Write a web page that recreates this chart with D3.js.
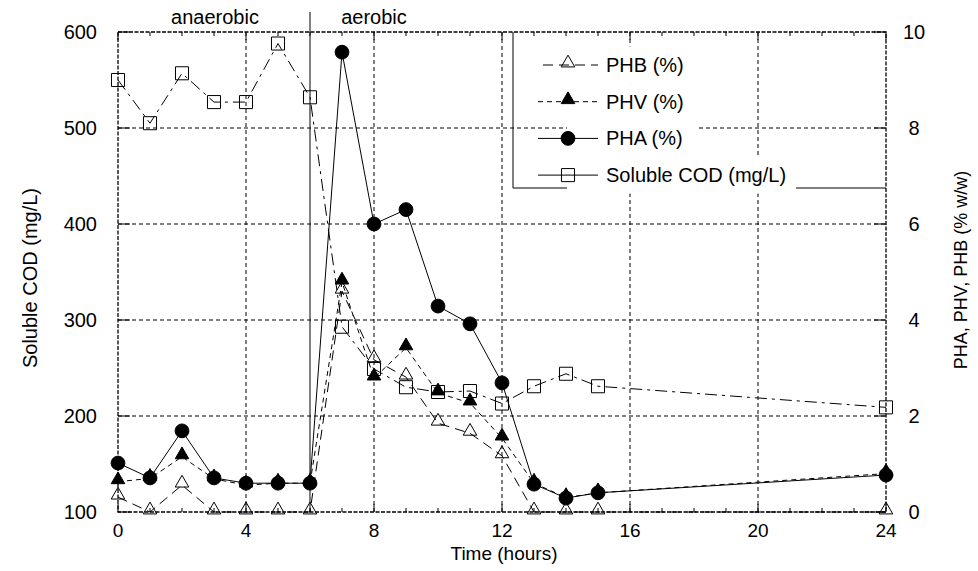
<!DOCTYPE html>
<html>
<head>
<meta charset="utf-8">
<script src="https://cdn.jsdelivr.net/npm/d3@7"></script>
<style>
  body { margin: 0; background: #fff; }
  text { font-family: "Liberation Sans", Arial, sans-serif; fill: #000; font-size: 20px; }
</style>
</head>
<body>
<svg id="chart"></svg>
<script>
const width = 978;
const height = 571;

// Data
const hours = [0, 1, 2, 3, 4, 5, 6, 7, 8, 9, 10, 11, 12, 13, 14, 15, 24];
const cod = [550, 505, 557, 527, 527, 588, 532, 293, 249, 230, 225, 226, 213, 231, 244, 231, 209];
const pha = [1.02, 0.71, 1.69, 0.71, 0.6, 0.6, 0.6, 9.58, 6.0, 6.3, 4.29, 3.92, 2.69, 0.58, 0.29, 0.4, 0.77];
const phv = [0.63, 0.7, 1.15, 0.69, 0.56, 0.6, 0.6, 4.79, 2.79, 3.42, 2.48, 2.27, 1.54, 0.6, 0.3, 0.4, 0.8];
const phb = [0.31, 0, 0.56, 0, 0, 0, 0, 4.6, 3.17, 2.81, 1.85, 1.64, 1.17, 0, 0, 0, 0];

const xTicks = [0, 4, 8, 12, 16, 20, 24];
const leftTicks = [100, 200, 300, 400, 500, 600];
const rightTicks = [0, 2, 4, 6, 8, 10];
const phaseSplit = 6;

const margin = {top: 32, right: 92, bottom: 59, left: 118};
const innerW = width - margin.left - margin.right;
const innerH = height - margin.top - margin.bottom;

const svg = d3.select("#chart")
    .attr("width", width)
    .attr("height", height)
    .attr("viewBox", `0 0 ${width} ${height}`);

const g = svg.append("g").attr("transform", `translate(${margin.left},${margin.top})`);

const x = d3.scaleLinear().domain([0, 24]).range([0, innerW]);
const yL = d3.scaleLinear().domain([100, 600]).range([innerH, 0]);
const yR = d3.scaleLinear().domain([0, 10]).range([innerH, 0]);

// grid lines
g.selectAll(".vgrid")
    .data(xTicks.slice(1, -1))
    .enter().append("line")
    .attr("x1", d => x(d)).attr("x2", d => x(d))
    .attr("y1", 0).attr("y2", innerH)
    .attr("stroke", "#000").attr("stroke-width", 1)
    .attr("stroke-dasharray", "4,3");

g.selectAll(".hgrid")
    .data(leftTicks.slice(1, -1))
    .enter().append("line")
    .attr("x1", 0).attr("x2", innerW)
    .attr("y1", d => yL(d)).attr("y2", d => yL(d))
    .attr("stroke", "#000").attr("stroke-width", 1)
    .attr("stroke-dasharray", "4,3");

// frame (dashed like the grid, densely)
g.append("rect")
    .attr("width", innerW).attr("height", innerH)
    .attr("fill", "none")
    .attr("stroke", "#000").attr("stroke-width", 1.3)
    .attr("stroke-dasharray", "4,1.5");

// minor hour ticks on top and bottom
const hourTicks = d3.range(0, 25);
g.selectAll(".tickB")
    .data(hourTicks)
    .enter().append("line")
    .attr("x1", d => x(d)).attr("x2", d => x(d))
    .attr("y1", innerH).attr("y2", d => innerH - (d % 4 === 0 ? 8 : 4))
    .attr("stroke", "#000");
g.selectAll(".tickT")
    .data(hourTicks)
    .enter().append("line")
    .attr("x1", d => x(d)).attr("x2", d => x(d))
    .attr("y1", 0).attr("y2", d => (d % 4 === 0 ? 8 : 4))
    .attr("stroke", "#000");
g.selectAll(".tickL")
    .data(leftTicks)
    .enter().append("line")
    .attr("x1", 0).attr("x2", 12)
    .attr("y1", d => yL(d)).attr("y2", d => yL(d))
    .attr("stroke", "#000");
g.selectAll(".tickR")
    .data(rightTicks)
    .enter().append("line")
    .attr("x1", innerW - 12).attr("x2", innerW)
    .attr("y1", d => yR(d)).attr("y2", d => yR(d))
    .attr("stroke", "#000");

// tick labels
g.selectAll(".xlab")
    .data(xTicks)
    .enter().append("text")
    .attr("x", d => x(d)).attr("y", innerH + 25)
    .attr("text-anchor", "middle")
    .style("font-size", "19px")
    .text(d => d);
g.selectAll(".ylabL")
    .data(leftTicks)
    .enter().append("text")
    .attr("x", -21).attr("y", d => yL(d) + 7)
    .attr("text-anchor", "end")
    .text(d => d);
g.selectAll(".ylabR")
    .data(rightTicks)
    .enter().append("text")
    .attr("x", innerW + 28).attr("y", d => yR(d) + 7)
    .attr("text-anchor", "middle")
    .text(d => d);

// axis titles
svg.append("text")
    .attr("x", margin.left + x(12) + 2).attr("y", 560)
    .attr("text-anchor", "middle")
    .style("font-size", "19px")
    .text("Time (hours)");
svg.append("text")
    .attr("transform", `translate(37,${margin.top + innerH / 2 + 6}) rotate(-90)`)
    .attr("text-anchor", "middle")
    .text("Soluble COD (mg/L)");
svg.append("text")
    .attr("transform", `translate(967,270) rotate(-90)`)
    .attr("text-anchor", "middle")
    .style("font-size", "18px")
    .text("PHA, PHV, PHB (% w/w)");

// phase separator and labels
g.append("line")
    .attr("x1", x(phaseSplit)).attr("x2", x(phaseSplit))
    .attr("y1", 12 - margin.top).attr("y2", innerH)
    .attr("stroke", "#000").attr("stroke-width", 1);
svg.append("text")
    .attr("x", 215).attr("y", 24)
    .attr("text-anchor", "middle")
    .text("anaerobic");
svg.append("text")
    .attr("x", 374).attr("y", 24)
    .attr("text-anchor", "middle")
    .text("aerobic");

// series
const series = [
    {name: "Soluble COD (mg/L)", values: cod, y: yL, dash: "12,5,3,5", marker: "square"},
    {name: "PHB (%)", values: phb, y: yR, dash: "10,6", marker: "triOpen"},
    {name: "PHV (%)", values: phv, y: yR, dash: "5,4", marker: "triFill"},
    {name: "PHA (%)", values: pha, y: yR, dash: null, marker: "circle"}
];

const symbols = {
    square: {type: d3.symbolSquare, size: 170, fill: "none"},
    triOpen: {type: d3.symbolTriangle, size: 80, fill: "none"},
    triFill: {type: d3.symbolTriangle, size: 80, fill: "#000"},
    circle: {type: d3.symbolCircle, size: 150, fill: "#000"}
};

function drawMarker(sel, key) {
    const s = symbols[key];
    sel.append("path")
        .attr("d", d3.symbol().type(s.type).size(s.size))
        .attr("fill", s.fill)
        .attr("stroke", "#000")
        .attr("stroke-width", 1);
}

series.forEach(s => {
    const line = d3.line()
        .x((d, i) => x(hours[i]))
        .y(d => s.y(d));
    g.append("path")
        .datum(s.values)
        .attr("d", line)
        .attr("fill", "none")
        .attr("stroke", "#000")
        .attr("stroke-width", 1)
        .attr("stroke-dasharray", s.dash);
});

series.forEach(s => {
    const pts = g.selectAll(null)
        .data(s.values)
        .enter().append("g")
        .attr("transform", (d, i) => {
            const dy = s.marker.startsWith("tri") ? 2 : 0;
            return `translate(${x(hours[i])},${s.y(d) - dy})`;
        });
    drawMarker(pts, s.marker);
});

// legend
const legendOrder = ["PHB (%)", "PHV (%)", "PHA (%)", "Soluble COD (mg/L)"];
const legend = svg.append("g");
legend.append("path")
    .attr("d", `M513,${margin.top}V188H${margin.left + innerW}`)
    .attr("fill", "none").attr("stroke", "#000").attr("stroke-width", 1);

legendOrder.forEach((name, k) => {
    const s = series.find(d => d.name === name);
    const cy = 65 + k * 36.7;
    const txtW = name.length > 10 ? 190 : 92;
    legend.append("rect")
        .attr("x", 567).attr("y", cy - 18.5)
        .attr("width", 606 - 567 + txtW).attr("height", 37)
        .attr("fill", "#fff");
    legend.append("line")
        .attr("x1", 538).attr("x2", 598)
        .attr("y1", cy).attr("y2", cy)
        .attr("stroke", "#000").attr("stroke-width", 1)
        .attr("stroke-dasharray", name === "PHV (%)" ? "5,4" : (name === "PHB (%)" ? "10,6" : null))
        .attr("stroke-dashoffset", name === "PHB (%)" ? -5 : 0);
    const m = legend.append("g")
        .attr("transform", `translate(568,${s.marker.startsWith("tri") ? cy - 2 : cy})`);
    drawMarker(m, s.marker);
    legend.append("text")
        .attr("x", 606).attr("y", cy + 7)
        .text(name);
});
</script>
</body>
</html>
